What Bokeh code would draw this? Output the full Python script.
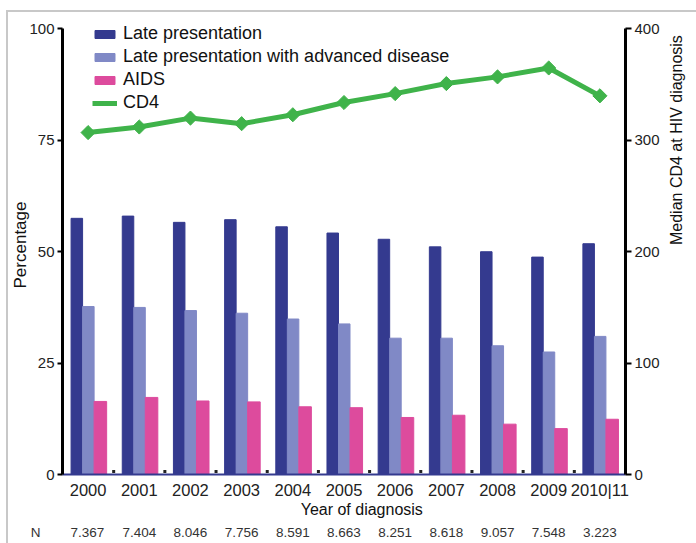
import math
from bokeh.plotting import figure
from bokeh.models import (Range1d, LinearAxis, FixedTicker, Legend, LegendItem, ColumnDataSource)
from bokeh.transform import dodge
from bokeh.embed import file_html
from bokeh.resources import INLINE

# ---- data ----
years = ["2000", "2001", "2002", "2003", "2004", "2005", "2006", "2007", "2008", "2009", "2010|11"]
late = [57.5, 58.0, 56.6, 57.2, 55.6, 54.2, 52.8, 51.1, 50.0, 48.8, 51.8]
late_adv = [37.7, 37.5, 36.8, 36.2, 34.9, 33.8, 30.6, 30.6, 28.9, 27.5, 31.0]
aids = [16.4, 17.3, 16.5, 16.3, 15.2, 15.0, 12.8, 13.3, 11.3, 10.3, 12.4]
cd4 = [307, 312, 320, 315, 323, 334, 342, 351, 357, 365, 340]
n_cases = ["7.367", "7.404", "8.046", "7.756", "8.591", "8.663", "8.251", "8.618", "9.057", "7.548", "3.223"]
n_title = "N"
left_ticks = [0, 25, 50, 75, 100]
right_ticks = [0, 100, 200, 300, 400]

idx = list(range(len(years)))
src = ColumnDataSource(dict(x=idx, late=late, adv=late_adv, aids=aids, cd4=cd4))
# small separator dots between year groups
sep = ColumnDataSource(dict(x=[i + 0.5 for i in idx[:-1]], y=[0.7] * (len(idx) - 1)))

FONT = "Liberation Sans"
C_DARK = "#343a8f"
C_LIGHT = "#8089c6"
C_PINK = "#dd4b9d"
C_GREEN = "#3fb34a"
GRAY = "#c8c8c8"
NB = "\u00a0"

TOP_PAD = 3.03  # headroom above 100 % (room for the legend)
p = figure(width=696, height=543, x_range=Range1d(-0.5, 10.5), y_range=Range1d(0, 100 + TOP_PAD),
           output_backend="svg", toolbar_location=None,
           min_border_left=62, min_border_right=71, min_border_top=15, min_border_bottom=69,
           outline_line_color=None, background_fill_color="white", border_fill_color=None)
p.styles = {"background": (f"linear-gradient({GRAY},{GRAY}) 6px 10px / 2px calc(100% - 10px) no-repeat, "
                           f"linear-gradient({GRAY},{GRAY}) 6px 10px / calc(100% - 6px) 2px no-repeat, white")}
p.xgrid.visible = False
p.ygrid.visible = False
p.extra_y_ranges = {"cd4": Range1d(0, 4 * (100 + TOP_PAD))}

w = 0.225
r1 = p.vbar(x=dodge("x", -0.22, range=p.x_range), top="late", width=w, source=src,
            fill_color=C_DARK, line_color=C_DARK)
r2 = p.vbar(x=dodge("x", 0.005, range=p.x_range), top="adv", width=w, source=src,
            fill_color=C_LIGHT, line_color=C_LIGHT)
r3 = p.vbar(x=dodge("x", 0.24, range=p.x_range), top="aids", width=w + 0.02, source=src,
            fill_color=C_PINK, line_color=C_PINK)
p.scatter(x="x", y="y", source=sep, marker="square", size=3, fill_color="#222222", line_color=None)
r4 = p.line(x="x", y="cd4", source=src, y_range_name="cd4", line_color=C_GREEN, line_width=5)
r5 = p.scatter(x="x", y="cd4", source=src, y_range_name="cd4", marker="square", angle=math.pi / 4,
               size=10, fill_color=C_GREEN, line_color=C_GREEN)

# bottom axis (years)
xa = p.xaxis[0]
xa.ticker = FixedTicker(ticks=idx)
xa.major_label_overrides = {i: y for i, y in zip(idx, years)}
xa.axis_line_color = "#343a8f"
xa.axis_line_width = 2
xa.major_tick_line_color = None
xa.minor_tick_line_color = None
xa.major_tick_out = 0
xa.major_label_standoff = 6
xa.major_label_text_font = FONT
xa.major_label_text_font_size = "16.5px"
xa.major_label_text_color = "#222222"
xa.axis_label = NB * 8 + "Year of diagnosis"
xa.axis_label_text_font = FONT
xa.axis_label_text_font_size = "16px"
xa.axis_label_text_font_style = "normal"
xa.axis_label_text_color = "#111111"
xa.axis_label_standoff = -1

# second bottom axis (N row); the first label also carries the "N" row title
n_labels = {i: n for i, n in zip(idx, n_cases)}
n_labels[0] = n_title + NB * 8 + n_cases[0] + NB * 11
na = LinearAxis(ticker=FixedTicker(ticks=idx))
na.major_label_overrides = n_labels
na.axis_line_color = None
na.major_tick_line_color = None
na.minor_tick_line_color = None
na.major_tick_out = 0
na.major_label_standoff = 4
na.major_label_text_font = FONT
na.major_label_text_font_size = "13.5px"
na.major_label_text_color = "#333333"
p.add_layout(na, "below")

# left axis
ya = p.yaxis[0]
ya.ticker = FixedTicker(ticks=left_ticks)
ya.bounds = (0, 100)
ya.axis_line_color = "black"
ya.axis_line_width = 3
ya.major_tick_line_color = "black"
ya.major_tick_line_width = 2
ya.major_tick_out = 5
ya.major_tick_in = 0
ya.minor_tick_line_color = None
ya.major_label_standoff = 3
ya.major_label_text_font = FONT
ya.major_label_text_font_size = "15px"
ya.major_label_text_color = "#222222"
ya.axis_label = "Percentage"
ya.axis_label_text_font = FONT
ya.axis_label_text_font_size = "17px"
ya.axis_label_text_font_style = "normal"
ya.axis_label_text_color = "#111111"
ya.axis_label_standoff = -4

# right axis
ra = LinearAxis(y_range_name="cd4", ticker=FixedTicker(ticks=right_ticks), bounds=(0, 400))
ra.axis_line_color = "black"
ra.axis_line_width = 3
ra.major_tick_line_color = "black"
ra.major_tick_line_width = 2
ra.major_tick_out = 6
ra.major_tick_in = 0
ra.minor_tick_line_color = None
ra.major_label_standoff = 3
ra.major_label_text_font = FONT
ra.major_label_text_font_size = "15px"
ra.major_label_text_color = "#222222"
ra.axis_label = "Median CD4 at HIV diagnosis"
ra.axis_label_text_font = FONT
ra.axis_label_text_font_size = "16px"
ra.axis_label_text_font_style = "normal"
ra.axis_label_text_color = "#111111"
ra.axis_label_standoff = 14
ra.axis_label_orientation = math.pi / 2
p.add_layout(ra, "right")

legend = Legend(items=[
    LegendItem(label="Late presentation", renderers=[r1]),
    LegendItem(label="Late presentation with advanced disease", renderers=[r2]),
    LegendItem(label="AIDS", renderers=[r3]),
    LegendItem(label="CD4", renderers=[r4, r5]),
], location=(30, 361), label_text_font=FONT, label_text_font_size="18px",
   label_text_color="#111111", glyph_width=25, glyph_height=10, spacing=2, padding=0,
   margin=0, border_line_color=None, background_fill_alpha=0, label_standoff=6)
p.add_layout(legend)

open("out.html", "w").write(file_html(p, INLINE))
